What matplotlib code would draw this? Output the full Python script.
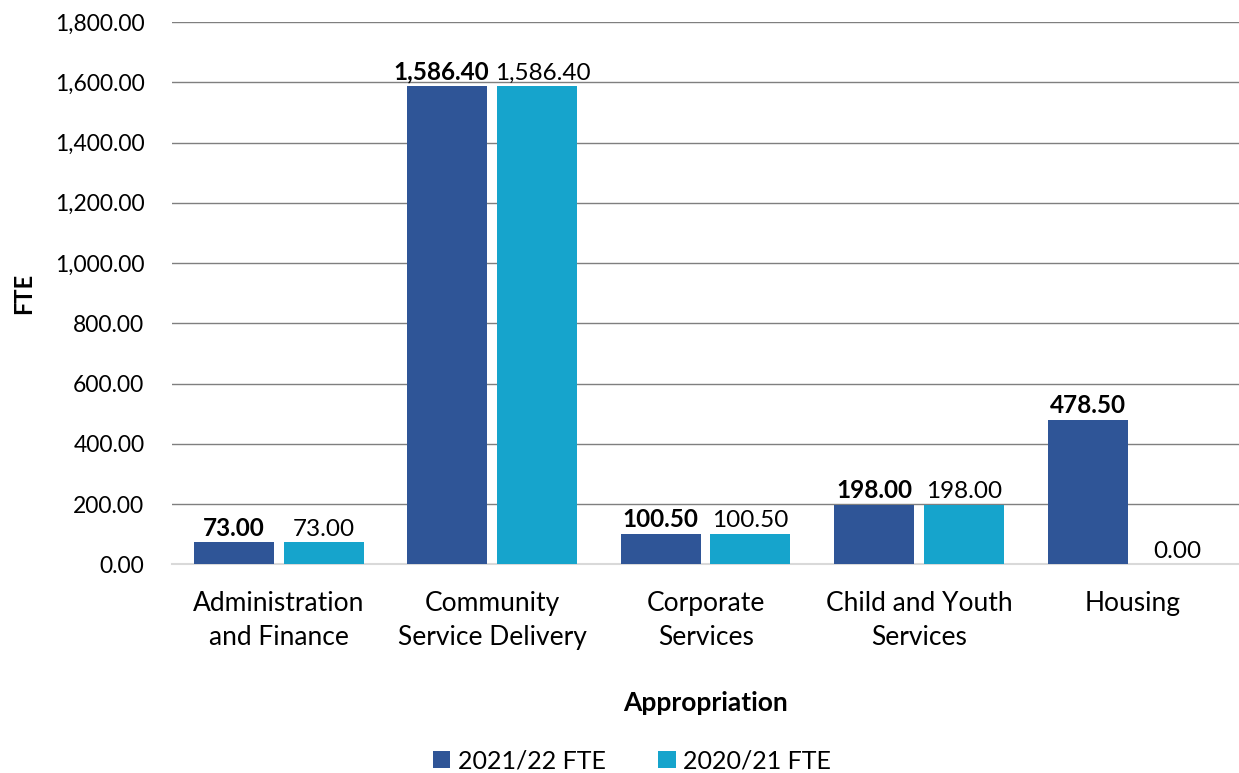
import matplotlib.pyplot as plt
import numpy as np
from matplotlib.ticker import FuncFormatter

categories = ['Administration\nand Finance', 'Community\nService Delivery', 'Corporate\nServices',
              'Child and Youth\nServices', 'Housing']
fte_2122 = [73.00, 1586.40, 100.50, 198.00, 478.50]
fte_2021 = [73.00, 1586.40, 100.50, 198.00, 0.00]
series_names = ['2021/22 FTE', '2020/21 FTE']

plt.rcParams['font.family'] = ['Lato', 'DejaVu Sans']

fig = plt.figure(figsize=(12.39, 7.73), dpi=100)
ax = fig.add_axes([0.139, 0.270, 0.861, 0.7015])

x = np.arange(len(categories))
width = 0.375
gap = 0.045
b1 = ax.bar(x - width/2 - gap/2, fte_2122, width, color='#2F5597', label=series_names[0], zorder=3)
b2 = ax.bar(x + width/2 + gap/2, fte_2021, width, color='#16A4CC', label=series_names[1], zorder=3)

labels1, labels2 = [], []
for rect, v in zip(b1, fte_2122):
    labels1.append(ax.annotate(f'{v:,.2f}', xy=(rect.get_x() + rect.get_width()/2, v), xytext=(0, 2),
                               textcoords='offset points', ha='center', va='bottom',
                               fontsize=17.5, weight='bold'))
for rect, v in zip(b2, fte_2021):
    labels2.append(ax.annotate(f'{v:,.2f}', xy=(rect.get_x() + rect.get_width()/2, v), xytext=(0, 2),
                               textcoords='offset points', ha='center', va='bottom', fontsize=17.5))

ax.set_xlim(-0.5, len(categories) - 0.5)
ax.set_ylim(0, 1800)
ax.set_yticks(np.arange(0, 1801, 200))
ax.yaxis.set_major_formatter(FuncFormatter(lambda v, p: f'{v:,.2f}'))
ax.set_xticks(x)
ax.set_xticklabels(categories, fontsize=19, linespacing=1.45)
ax.tick_params(axis='y', labelsize=16.5, length=0, pad=20)
ax.tick_params(axis='x', length=0, pad=19)

ax.grid(axis='y', color='#7f7f7f', linewidth=1, zorder=0)
for s in ['top', 'right', 'left']:
    ax.spines[s].set_visible(False)
ax.spines['bottom'].set_color('#d9d9d9')
ax.spines['bottom'].set_linewidth(1.5)

ax.set_ylabel('FTE', fontsize=17, weight='bold', labelpad=14)
ax.set_xlabel('Appropriation', fontsize=19, weight='bold', labelpad=30)

fig.legend(loc='lower center', bbox_to_anchor=(0.51, -0.028), ncol=2, frameon=False, fontsize=18,
           handlelength=0.7, handleheight=0.7, handletextpad=0.3, columnspacing=2.1)

# nudge data labels apart where a pair collides (like Excel does)
fig.canvas.draw()
r = fig.canvas.get_renderer()
for t1, t2 in zip(labels1, labels2):
    e1, e2 = t1.get_window_extent(r), t2.get_window_extent(r)
    overlap = e1.x1 - e2.x0 + 6
    if overlap > 0 and abs(e1.y0 - e2.y0) < e1.height:
        half = overlap / 2 * 72 / fig.dpi
        t1.set_position((-half, 2))
        t2.set_position((half, 2))

fig.savefig('out.png', dpi=100)
